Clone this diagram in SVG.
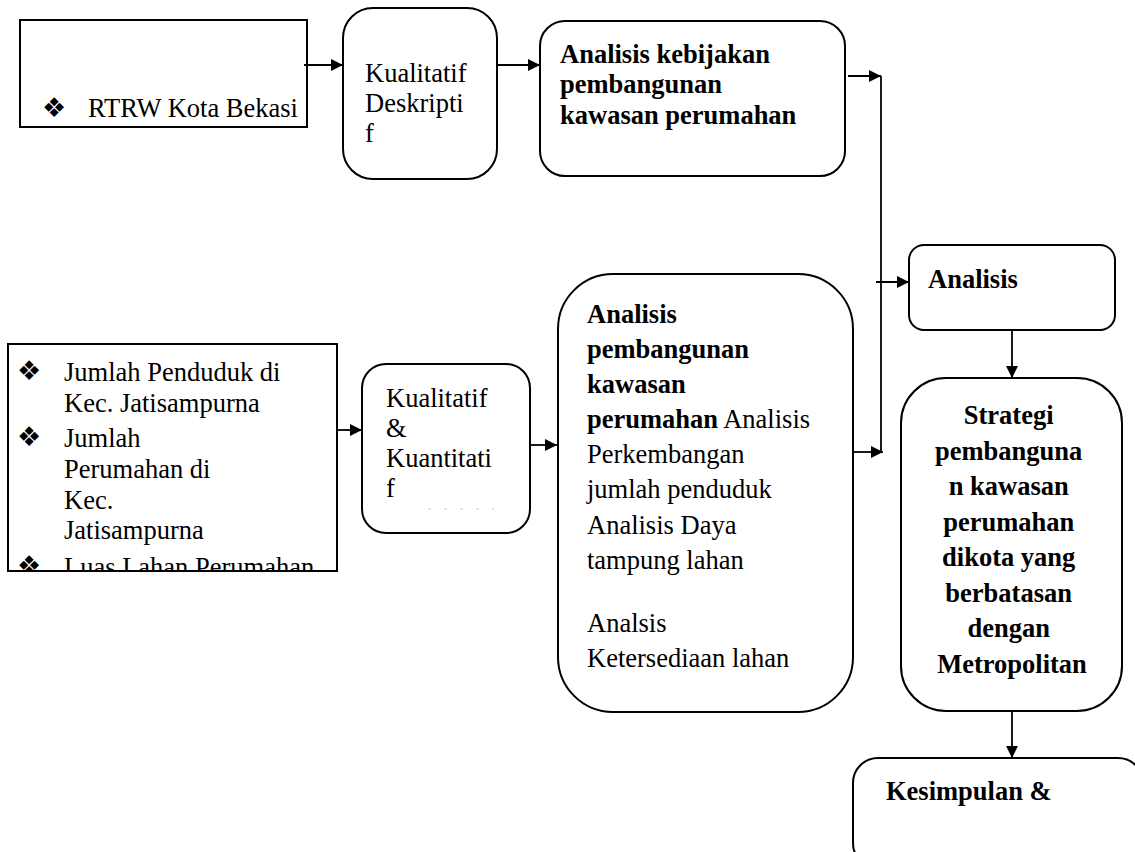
<svg xmlns="http://www.w3.org/2000/svg" width="1135" height="852" viewBox="0 0 1135 852">
<style>
.box{fill:#fff;stroke:#000;stroke-width:2}
.t{font-family:"Liberation Serif","Times New Roman",serif;font-size:26.5px;fill:#000}
.b{font-weight:bold}
.bul{font-family:"DejaVu Sans",sans-serif;font-size:27px;fill:#000}
.c{fill:none;stroke:#000;stroke-width:1.8}
</style>
<defs>
<marker id="ah" markerUnits="userSpaceOnUse" markerWidth="12" markerHeight="12" refX="12" refY="6" orient="auto">
<path d="M0,0 L12,6 L0,12 z" fill="#000"/>
</marker>
<clipPath id="clip4"><rect x="8" y="344" width="329" height="227"/></clipPath>
</defs>
<rect width="1135" height="852" fill="#fff"/>

<g id="n-rtrw">
<rect class="box" x="20" y="20" width="287" height="107"/>
<text class="bul" x="42" y="117">❖</text>
<text class="t" x="88" y="117">RTRW Kota Bekasi</text>
</g>

<g id="n-kual-desk">
<rect class="box" x="343" y="8" width="154" height="171" rx="30"/>
<text class="t" x="365"><tspan x="365" y="82">Kualitatif</tspan><tspan x="365" y="112">Deskripti</tspan><tspan x="365" y="142">f</tspan></text>
</g>

<g id="n-kebijakan">
<rect class="box" x="540" y="21" width="305" height="155" rx="25"/>
<text class="t b" x="560"><tspan x="560" y="63">Analisis kebijakan</tspan><tspan x="560" y="93">pembangunan</tspan><tspan x="560" y="124">kawasan perumahan</tspan></text>
</g>

<g id="n-data">
<rect class="box" x="8" y="344" width="329" height="227"/>
<g clip-path="url(#clip4)">
<text class="bul" x="17" y="380">❖</text>
<text class="t" x="64"><tspan x="64" y="381">Jumlah Penduduk di</tspan><tspan x="64" y="412">Kec. Jatisampurna</tspan></text>
<text class="bul" x="17" y="446">❖</text>
<text class="t" x="64"><tspan x="64" y="447">Jumlah</tspan><tspan x="64" y="478">Perumahan  di</tspan><tspan x="64" y="509">Kec.</tspan><tspan x="64" y="539">Jatisampurna</tspan></text>
<text class="bul" x="17" y="575">❖</text>
<text class="t" x="64" y="576">Luas Lahan Perumahan</text>
</g>
<rect x="8" y="344" width="329" height="227" fill="none" stroke="#000" stroke-width="2"/>
</g>

<g id="n-kual-kuan">
<rect class="box" x="362" y="364" width="168" height="169" rx="24"/>
<text class="t" x="386"><tspan x="386" y="407">Kualitatif</tspan><tspan x="386" y="437">&amp;</tspan><tspan x="386" y="467">Kuantitati</tspan><tspan x="386" y="497">f</tspan></text>
<line x1="428" y1="509" x2="494" y2="509" stroke="#c8c8c8" stroke-width="1" stroke-dasharray="3 13"/>
</g>

<g id="n-analisis-pembangunan">
<rect class="box" x="558" y="274" width="295" height="438" rx="55"/>
<text class="t" x="587">
<tspan x="587" y="323" font-weight="bold">Analisis</tspan>
<tspan x="587" y="358" font-weight="bold">pembangunan</tspan>
<tspan x="587" y="393" font-weight="bold">kawasan</tspan>
<tspan x="587" y="428" font-weight="bold">perumahan</tspan><tspan> Analisis</tspan>
<tspan x="587" y="463">Perkembangan</tspan>
<tspan x="587" y="498">jumlah penduduk</tspan>
<tspan x="587" y="534">Analisis Daya</tspan>
<tspan x="587" y="569">tampung lahan</tspan>
<tspan x="587" y="632">Analsis</tspan>
<tspan x="587" y="667">Ketersediaan lahan</tspan>
</text>
</g>

<g id="n-analisis">
<rect class="box" x="909" y="245" width="206" height="85" rx="15"/>
<text class="t b" x="928" y="288">Analisis</text>
</g>

<g id="n-strategi">
<rect class="box" x="901" y="378" width="221" height="333" rx="45"/>
<text class="t b" text-anchor="middle">
<tspan x="1012" y="424">Strategi</tspan>
<tspan x="1012" y="459.5">pembanguna</tspan>
<tspan x="1012" y="495">n kawasan</tspan>
<tspan x="1012" y="530.5">perumahan</tspan>
<tspan x="1012" y="566">dikota yang</tspan>
<tspan x="1012" y="601.5">berbatasan</tspan>
<tspan x="1012" y="637">dengan</tspan>
<tspan x="1012" y="672.5">Metropolitan</tspan>
</text>
</g>

<g id="n-kesimpulan">
<rect class="box" x="853" y="758" width="290" height="110" rx="25"/>
<text class="t b" x="886" y="800">Kesimpulan &amp;</text>
</g>

<g id="connectors">
<line class="c" x1="304" y1="65" x2="343" y2="65" stroke-width="3.2" marker-end="url(#ah)"/>
<line class="c" x1="498" y1="65" x2="540" y2="65" marker-end="url(#ah)"/>
<line class="c" x1="848" y1="76" x2="881" y2="76" marker-end="url(#ah)"/>
<line class="c" x1="881" y1="76" x2="881" y2="452"/>
<line class="c" x1="876" y1="282" x2="909" y2="282" marker-end="url(#ah)"/>
<line class="c" x1="853" y1="452" x2="883" y2="452" marker-end="url(#ah)"/>
<line class="c" x1="337" y1="430" x2="362" y2="430" marker-end="url(#ah)"/>
<line class="c" x1="530" y1="445" x2="557" y2="445" marker-end="url(#ah)"/>
<line class="c" x1="1012" y1="330" x2="1012" y2="378" marker-end="url(#ah)"/>
<line class="c" x1="1012" y1="711" x2="1012" y2="758" marker-end="url(#ah)"/>
</g>
</svg>
